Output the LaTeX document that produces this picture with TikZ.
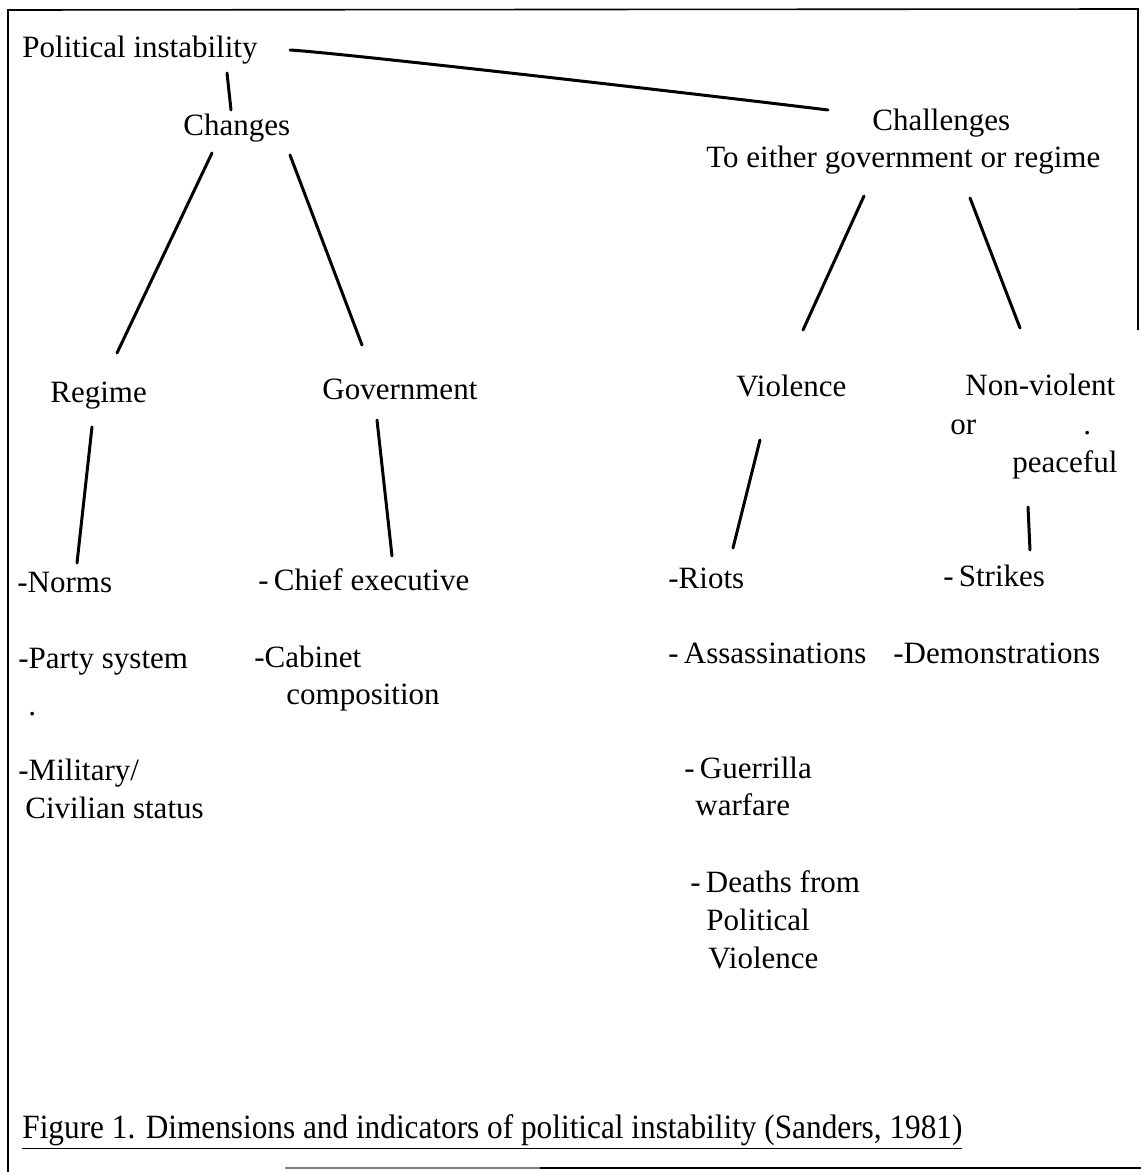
\documentclass[tikz,border=0pt]{standalone}
\usepackage{fontspec}
\setmainfont{Liberation Serif}
\usepackage{tikz}

\begin{document}
\begin{tikzpicture}[x=0.5pt, y=-0.5pt,
        lbl/.style={anchor=base west, inner sep=0pt, font=\fontsize{15.5}{18.75}\selectfont},
        hand/.style={line width=1.5pt, line cap=round, line join=round}]
        \useasboundingbox (0,0) rectangle (1141,1172);
        % the frame round the figure
        \draw[line width=0.8pt] (8,1172) -- (8,10) -- (1138,9) -- (1138,330);
        \draw[gray, line width=0.6pt] (285,1168) -- (540,1168);
        \draw[line width=0.8pt] (540,1168) -- (1141,1168);
        % the dimensions
        \foreach \px/\py/\nm/\lab in {22/58/pol/{Political instability}, 183/135/chg/{Changes},
                872/131/chl/{Challenges}, 706/168/chlb/{To either government or regime},
                50/402/reg/{Regime}, 322/399/gov/{Government}, 736/396/vio/{Violence},
                965/395/nonv/{Non-violent}, 950/434/nonvb/{or}, 1083/434/nonvd/{.},
                1012/472/peace/{peaceful}}
            \node[lbl] (\nm) at (\px,\py) {\lab};
        % the indicators
        \foreach \px/\py/\nm/\lab in {17/592/norms/{-Norms}, 18/668/party/{-Party system},
                28/715/partyd/{.}, 18/780/mil/{-Military/}, 25/818/milb/{Civilian status},
                258/590/chief/{-\,Chief executive}, 254/667/cab/{-Cabinet}, 286/704/cabb/{composition},
                668/588/riots/{-Riots}, 668/663/ass/{-\,Assassinations},
                684/778/guer/{-\,Guerrilla}, 695/815/guerb/{warfare},
                690/892/death/{-\,Deaths from}, 706/930/deathb/{Political}, 708/968/deathc/{Violence},
                943/586/strk/{-\,Strikes}, 893/663/demo/{-Demonstrations}}
            \node[lbl] (\nm) at (\px,\py) {\lab};
        \node[lbl, font=\fontsize{17}{20}\selectfont] (cap) at (22,1138)
            {\scalebox{0.92}[1]{\underline{Figure 1. Dimensions and indicators of political instability (Sanders, 1981)}}};
        % the hand drawn strokes
        \draw[hand] ([shift={(205,15)}]pol.base west) -- ([shift={(48,-25)}]chg.base west);
        \draw[hand] ([shift={(268,-8)}]pol.base west) .. controls +(50,3) and +(-130,-16) .. ([shift={(-44,-21)}]chl.base west);
        \draw[hand] ([shift={(29,18)}]chg.base west) -- ([shift={(67,-49)}]reg.base west);
        \draw[hand] ([shift={(107,20)}]chg.base west) -- ([shift={(40,-54)}]gov.base west);
        \draw[hand] ([shift={(42,25)}]reg.base west) -- ([shift={(60,-29)}]norms.base west);
        \draw[hand] ([shift={(55,21)}]gov.base west) -- ([shift={(134,-34)}]chief.base west);
        \draw[hand] ([shift={(158,28)}]chlb.base west) -- ([shift={(67,-66)}]vio.base west);
        \draw[hand] ([shift={(264,30)}]chlb.base west) -- ([shift={(55,-67)}]nonv.base west);
        \draw[hand] ([shift={(24,44)}]vio.base west) -- ([shift={(65,-40)}]riots.base west);
        \draw[hand] ([shift={(16,35)}]peace.base west) -- ([shift={(87,-36)}]strk.base west);
\end{tikzpicture}
\end{document}
